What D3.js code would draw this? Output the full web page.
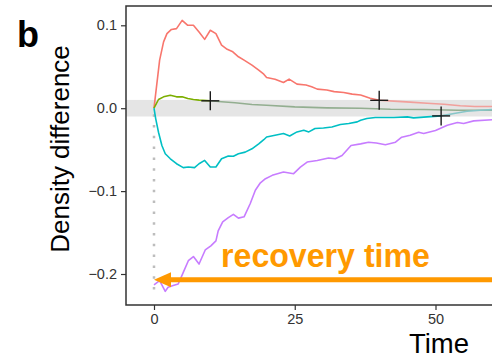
<!DOCTYPE html>
<html>
<head>
<meta charset="utf-8">
<script src="https://d3js.org/d3.v7.min.js"></script>
<style>
  body { margin: 0; background: #fff; }
  svg { display: block; font-family: 'Liberation Sans', Arial, Helvetica, sans-serif; }
</style>
</head>
<body>
<script>
'use strict';

// data: [time, density difference]
var redSeries = [[0,0],[1,0.058],[1.7,0.080],[2.3,0.090],[3.1,0.095],[4,0.096],[5,0.106],[6,0.100],
  [7,0.100],[8,0.092],[9,0.083],[10,0.094],[11,0.090],[12,0.076],[13,0.071],[14,0.068],[15,0.062],
  [16,0.058],[17.4,0.052],[18.6,0.046],[19.5,0.041],[20,0.037],[21.5,0.035],[23,0.031],[24,0.035],
  [25.4,0.029],[27,0.028],[28,0.026],[29,0.023],[30.7,0.022],[32,0.020],[33.7,0.019],[35.2,0.017],
  [36.7,0.016],[38.4,0.012],[40,0.0095],[42.6,0.0085],[45.5,0.0073],[48.5,0.006],[51.5,0.0048],
  [54.4,0.003],[57,0.002],[60.5,0.002]];
var greenSeries = [[0,0],[0.8,0.0105],[1.7,0.0137],[2.9,0.0157],[4,0.0137],[5,0.0137],[6,0.0117],
  [7,0.0105],[8,0.0097],[10,0.0089],[12,0.0077],[14.4,0.0065],[17.4,0.0045],[20,0.0036],[25,0.0016],
  [30.7,0.0004],[36.7,0],[42,-0.0012],[48,-0.0015],[54,-0.0024],[60.5,-0.0024]];
var cyanSeries = [[0,0],[0.3,-0.0125],[0.8,-0.029],[1.4,-0.045],[2,-0.055],[2.9,-0.061],[4,-0.067],
  [5.2,-0.0717],[6.1,-0.071],[7.2,-0.0717],[8,-0.067],[9,-0.063],[10,-0.071],[11,-0.071],[12,-0.061],
  [13.2,-0.0577],[14.1,-0.058],[15,-0.055],[16.2,-0.053],[17.4,-0.049],[18.6,-0.043],[19.5,-0.038],
  [20,-0.0347],[21.5,-0.0326],[23,-0.0306],[24.1,-0.0335],[25.4,-0.0286],[26.6,-0.0266],[27.5,-0.0286],
  [28.6,-0.0245],[30.1,-0.0238],[31.6,-0.0226],[33.1,-0.0197],[34.6,-0.0185],[36.1,-0.0165],
  [36.7,-0.0145],[37.8,-0.0125],[39.3,-0.0112],[42.6,-0.0112],[45,-0.0105],[46.1,-0.0117],
  [48.5,-0.0105],[51,-0.0093],[53.3,-0.0064],[55.6,-0.0036],[58,-0.0024],[60.5,-0.0016]];
var purpleSeries = [[0,-0.213],[1,-0.208],[2,-0.221],[2.5,-0.216],[3.4,-0.214],[4.3,-0.212],
  [5.2,-0.198],[6.1,-0.184],[7,-0.179],[8,-0.188],[9.1,-0.171],[10.1,-0.166],[11,-0.160],[11.4,-0.148],
  [12.2,-0.137],[13.2,-0.132],[14.1,-0.128],[15,-0.1326],[16,-0.131],[17.1,-0.115],[18,-0.099],
  [18.9,-0.090],[19.8,-0.085],[21,-0.081],[23,-0.077],[24.8,-0.079],[26,-0.071],[27.2,-0.065],
  [29,-0.063],[31,-0.060],[32.2,-0.061],[33.4,-0.057],[35,-0.045],[36.7,-0.043],[38.1,-0.041],
  [39.5,-0.042],[41.1,-0.044],[42.9,-0.041],[44,-0.035],[45.5,-0.0326],[47,-0.029],[47.9,-0.0306],
  [50,-0.027],[52.1,-0.0206],[53.9,-0.0173],[55,-0.0185],[56.8,-0.0153],[60.5,-0.0137]];

var seriesNames   = ['red', 'green', 'cyan', 'purple'];
var seriesValues  = [redSeries, greenSeries, cyanSeries, purpleSeries];
var seriesColors  = ['#F8766D', '#7CAE00', '#00BFC4', '#C77CFF'];
var fadedColors   = ['#F1A09C', '#93AE90', '#86C6C8', '#C77CFF'];  // after recovery
var recoveryTimes = [40, 10, 51, null];   // where the + marks sit

var xTicks = [0, 25, 50];
var yTicks = [-0.2, -0.1, 0.0, 0.1];
var tolerance = 0.01;        // grey band half width
var arrowLevel = -0.207;     // orange arrow height
var dottedBottom = -0.22;

var width = 492, height = 360;
var panel = {left: 126, top: 6, right: 500, bottom: 305};

var svg = d3.select('body').append('svg')
    .attr('width', width)
    .attr('height', height);

var x = d3.scaleLinear().domain([0, 50]).range([154, 435.5]);
var y = d3.scaleLinear().domain([-0.2, 0.1]).range([274, 25.3]);

svg.append('defs').append('clipPath')
    .attr('id', 'clip')
  .append('rect')
    .attr('x', panel.left)
    .attr('y', panel.top)
    .attr('width', panel.right - panel.left)
    .attr('height', panel.bottom - panel.top);

// grey band
svg.append('rect')
    .attr('x', panel.left)
    .attr('y', y(tolerance))
    .attr('width', width - panel.left)
    .attr('height', y(-tolerance) - y(tolerance))
    .attr('fill', '#e5e5e5');

// dotted line at time 0
svg.append('line')
    .attr('x1', x(0)).attr('x2', x(0))
    .attr('y1', y(0) + 6).attr('y2', y(dottedBottom))
    .attr('stroke', '#bdbdbd')
    .attr('stroke-width', 2.5)
    .attr('stroke-dasharray', '2.5,8.3');

var plot = svg.append('g').attr('clip-path', 'url(#clip)');

var line = d3.line()
    .x(function(d) { return x(d[0]); })
    .y(function(d) { return y(d[1]); });

function valueAt(data, t) {
  for (var i = 1; i < data.length; i++) {
    if (data[i][0] >= t) {
      var a = data[i - 1], b = data[i];
      return a[1] + (b[1] - a[1]) * (t - a[0]) / (b[0] - a[0]);
    }
  }
  return data[data.length - 1][1];
}

var marks = [];
seriesValues.forEach(function(data, i) {
  var rt = recoveryTimes[i];
  var before = data, after = [];
  if (rt !== null) {
    var v = valueAt(data, rt);
    before = data.filter(function(d) { return d[0] < rt; }).concat([[rt, v]]);
    after = [[rt, v]].concat(data.filter(function(d) { return d[0] > rt; }));
    marks.push([rt, v]);
  }
  plot.append('path')
      .datum(after)
      .attr('d', after.length ? line : null)
      .attr('fill', 'none')
      .attr('stroke', fadedColors[i])
      .attr('stroke-width', 1.6);
  plot.append('path')
      .datum(before)
      .attr('class', seriesNames[i])
      .attr('d', line)
      .attr('fill', 'none')
      .attr('stroke', seriesColors[i])
      .attr('stroke-width', 1.6)
      .attr('stroke-linejoin', 'round');
});

// recovery crosshairs
var cross = plot.selectAll('g.cross')
    .data(marks)
  .enter().append('g')
    .attr('class', 'cross')
    .attr('transform', function(d) { return 'translate(' + x(d[0]) + ',' + y(d[1]) + ')'; });
cross.append('line').attr('x1', -9).attr('x2', 9).attr('y1', 0).attr('y2', 0);
cross.append('line').attr('x1', 0).attr('x2', 0).attr('y1', -9.5).attr('y2', 9.5);
cross.selectAll('line').attr('stroke', '#1a1a1a').attr('stroke-width', 1.4);

// orange arrow
var orange = '#FF9900';
plot.append('line')
    .attr('x1', x(0) + 14).attr('x2', width + 10)
    .attr('y1', y(arrowLevel)).attr('y2', y(arrowLevel))
    .attr('stroke', orange)
    .attr('stroke-width', 5);
plot.append('path')
    .attr('d', 'M' + x(0) + ',' + y(arrowLevel) +
               'l17,-7.5 l0,15 z')
    .attr('fill', orange);

svg.append('text')
    .attr('x', 221)
    .attr('y', 267)
    .attr('fill', orange)
    .attr('font-weight', 'bold')
    .attr('font-size', 33)
    .attr('textLength', 209)
    .attr('lengthAdjust', 'spacingAndGlyphs')
    .text('recovery time');

// axes
var yAxis = svg.append('g')
    .attr('transform', 'translate(' + panel.left + ',0)')
    .call(d3.axisLeft(y).tickValues(yTicks).tickFormat(d3.format('.1f'))
      .tickSize(5).tickSizeOuter(0).tickPadding(4));
yAxis.select('.domain').remove();

var xAxis = svg.append('g')
    .attr('transform', 'translate(0,' + panel.bottom + ')')
    .call(d3.axisBottom(x).tickValues(xTicks).tickSize(5).tickSizeOuter(0).tickPadding(4));
xAxis.select('.domain').remove();

svg.selectAll('.tick line').attr('stroke', '#333').attr('stroke-width', 1.2);
svg.selectAll('.tick text')
    .attr('fill', '#333')
    .attr('font-size', 14.5)
    .attr('font-family', "'Liberation Sans', Arial, sans-serif");

// panel border: left, top, bottom
svg.append('path')
    .attr('d', 'M' + (width + 5) + ',' + panel.top + 'H' + panel.left + 'V' + panel.bottom + 'H' + (width + 5))
    .attr('fill', 'none')
    .attr('stroke', '#333')
    .attr('stroke-width', 1.5);

// titles
svg.append('text')
    .attr('transform', 'translate(69,149) rotate(-90)')
    .attr('text-anchor', 'middle')
    .attr('font-size', 26)
    .attr('fill', '#000')
    .text('Density difference');

svg.append('text')
    .attr('x', 439)
    .attr('y', 353)
    .attr('text-anchor', 'middle')
    .attr('font-size', 27.5)
    .attr('fill', '#000')
    .text('Time');

svg.append('text')
    .attr('x', 17)
    .attr('y', 47)
    .attr('font-size', 36)
    .attr('font-weight', 'bold')
    .attr('fill', '#000')
    .text('b');
</script>
</body>
</html>
